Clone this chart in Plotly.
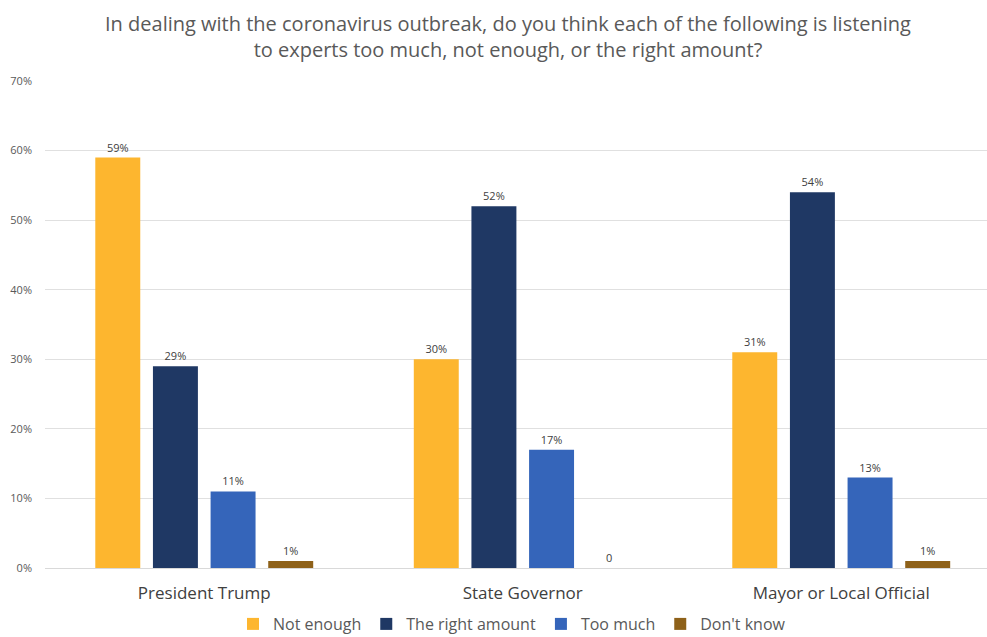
import plotly.graph_objects as go

categories = ["President Trump", "State Governor", "Mayor or Local Official"]
series_names = ["Not enough", "The right amount", "Too much", "Don't know"]
not_enough = [59, 30, 31]
right_amount = [29, 52, 54]
too_much = [11, 17, 13]
dont_know = [1, 0, 1]
y_ticks = [0, 10, 20, 30, 40, 50, 60, 70]

colors = ["#FDB62F", "#1F3864", "#3565BA", "#8E6119"]
series_values = [not_enough, right_amount, too_much, dont_know]

FONT = "Open Sans, Lato, sans-serif"

fig = go.Figure()
for name, vals, col in zip(series_names, series_values, colors):
    labels = [f"{v}%" if v != 0 else "0" for v in vals]
    fig.add_trace(go.Bar(
        name=name,
        x=categories,
        y=vals,
        marker=dict(color=col, line=dict(width=0)),
        text=labels,
        textposition="outside",
        cliponaxis=False,
        textfont=dict(family=FONT, size=11, color="#404040"),
    ))

fig.update_layout(
    width=987,
    height=637,
    barmode="group",
    bargap=0.276,
    bargroupgap=0.22,
    plot_bgcolor="white",
    paper_bgcolor="white",
    margin=dict(l=45, r=0, t=81, b=69, autoexpand=False),
    title=dict(
        text="In dealing with the coronavirus outbreak, do you think each of the following is listening<br>to experts too much, not enough, or the right amount?",
        x=(508 - 45) / 942,
        xref="paper",
        xanchor="center",
        yref="container",
        y=1 - 31 / 637,
        yanchor="middle",
        font=dict(family=FONT, size=20, color="#595959"),
    ),
    showlegend=True,
    legend=dict(
        orientation="h",
        x=(512 - 45) / 942,
        xanchor="center",
        yref="container",
        y=1 - 624 / 637,
        yanchor="middle",
        font=dict(family=FONT, size=16, color="#595959"),
        itemwidth=30,
        traceorder="normal",
    ),
    uniformtext=dict(minsize=11, mode="show"),
)

fig.update_xaxes(
    range=[-0.5, 2.5 - (1000.5 - 987) / 319],
    showgrid=False,
    showline=True,
    linecolor="#d9d9d9",
    linewidth=1,
    ticks="",
    ticklabelstandoff=10,
    tickfont=dict(family=FONT, size=17, color="#404040"),
)
fig.update_yaxes(
    range=[0, 70],
    tickvals=y_ticks,
    ticktext=[f"{v}%" for v in y_ticks],
    showgrid=True,
    gridcolor="#e0e0e0",
    gridwidth=1,
    zeroline=False,
    ticks="",
    ticklabelstandoff=12,
    tickfont=dict(family=FONT, size=11, color="#595959"),
)

fig.write_html("out.html")
